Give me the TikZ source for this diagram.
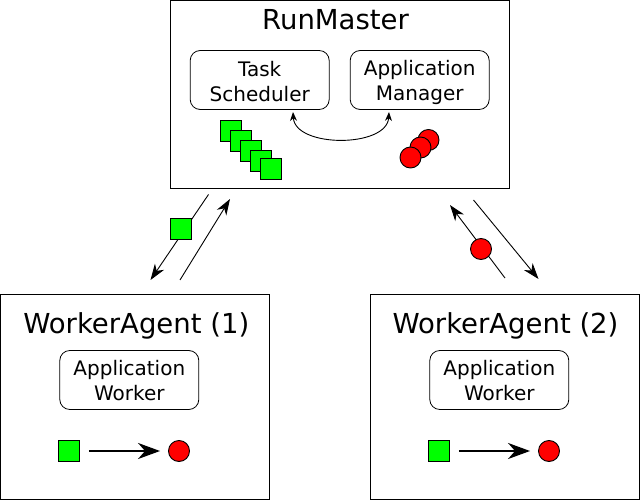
\documentclass[tikz,border=0pt]{standalone}
\usepackage{fontspec}
\setmainfont{DejaVu Sans}
\usetikzlibrary{arrows.meta}
\definecolor{sqgreen}{HTML}{00FF00}
\definecolor{dotred}{HTML}{FF0000}
\tikzset{
  bigbox/.style={draw, line width=1pt, inner sep=0pt},
  subbox/.style={draw, line width=0.8pt, rounded corners=10pt, minimum width=139pt, minimum height=59pt, inner sep=0pt},
  titletxt/.style={font=\fontsize{27.5}{33}\selectfont, inner sep=0pt, anchor=base},
  subtxt/.style={font=\fontsize{20}{25}\selectfont, align=center, inner sep=0pt},
  sq/.style={draw, line width=0.9pt, fill=sqgreen, minimum size=21pt, inner sep=0pt},
  dot/.style={draw, line width=0.9pt, fill=dotred, circle, minimum size=21pt, inner sep=0pt},
  thinarrow/.style={line width=0.9pt, -{Stealth[length=16pt, width=11pt, inset=5pt]}},
  fatarrow/.style={line width=2pt, -{Stealth[length=22pt, width=16pt, inset=7pt]}},
  curvearrow/.style={line width=0.9pt, {Stealth[length=9pt, width=7pt, inset=3pt]}-{Stealth[length=9pt, width=7pt, inset=3pt]}}
}
\begin{document}
\begin{tikzpicture}[x=1pt, y=-1pt]
\useasboundingbox (0,0) rectangle (640,500);
% RunMaster
\node[bigbox, minimum width=339pt, minimum height=188pt] (rm) at (340,94.5) {};
\node[titletxt] (rmt) at (335.5,30) {RunMaster};
\node[subbox] (ts) at (259.7,80) {};
\node[subtxt] (tst) at (259.7,82) {Task\\Scheduler};
\node[subbox] (am) at (419.7,80) {};
\node[subtxt] (amt) at (419.7,82) {Application\\Manager};
\node[sq] (s1) at (230.5,130.5) {};
\node[sq] (s2) at (241,141) {};
\node[sq] (s3) at (251.3,151) {};
\node[sq] (s4) at (261.3,160.5) {};
\node[sq] (s5) at (271.2,169) {};
\node[dot] (c1) at (428.5,140) {};
\node[dot] (c2) at (420.5,147.5) {};
\node[dot] (c3) at (410.5,157.5) {};
\coordinate (cvA) at (293,112);
\coordinate (cvB) at (389,112);
\draw[curvearrow] (cvA) .. controls (295,148) and (387,148) .. (cvB);
% WorkerAgent 1
\node[bigbox, minimum width=269pt, minimum height=205pt] (w1) at (135,397) {};
\node[titletxt] (w1t) at (136.3,333.3) {WorkerAgent (1)};
\node[subbox] (aw1) at (129.3,380) {};
\node[subtxt] (aw1t) at (129.3,381) {Application\\Worker};
\node[sq] (ws1) at (69,451) {};
\node[dot] (wc1) at (179,451) {};
\draw[fatarrow] (ws1.east) ++(9,0) coordinate (fa1) (fa1) -- ([xshift=-8pt]wc1.west);
% WorkerAgent 2
\node[bigbox, minimum width=269pt, minimum height=205pt] (w2) at (505,397) {};
\node[titletxt] (w2t) at (505.5,333.3) {WorkerAgent (2)};
\node[subbox] (aw2) at (499.3,380) {};
\node[subtxt] (aw2t) at (499.3,381) {Application\\Worker};
\node[sq] (ws2) at (439,451) {};
\node[dot] (wc2) at (549,451) {};
\draw[fatarrow] (ws2.east) ++(9,0) coordinate (fa2) (fa2) -- ([xshift=-8pt]wc2.west);
% connectors left
\coordinate (l1s) at (208.5,194.5);
\coordinate (l1e) at (150.5,280);
\coordinate (l2s) at (180,280);
\coordinate (l2e) at (230,199);
\draw[thinarrow] (l1s) -- (l1e);
\node[sq] (gm) at (181,228.7) {};
\draw[thinarrow] (l2s) -- (l2e);
% connectors right
\coordinate (r1s) at (505,278);
\coordinate (r1e) at (450,205);
\coordinate (r2s) at (473.5,200);
\coordinate (r2e) at (538.5,279);
\draw[thinarrow] (r1s) -- (r1e);
\node[dot] (rm1) at (481,249) {};
\draw[thinarrow] (r2s) -- (r2e);
\end{tikzpicture}
\end{document}
